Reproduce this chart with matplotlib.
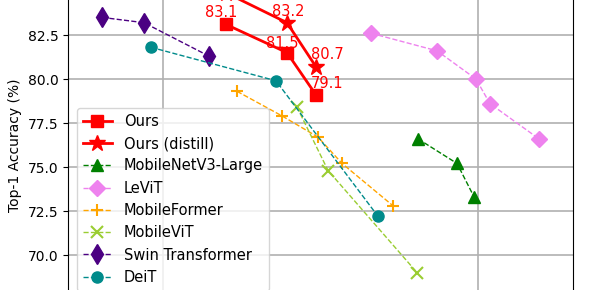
import matplotlib
matplotlib.use('Agg')
import matplotlib.pyplot as plt

# x values are on an arbitrary scale (tick labels are cropped out in the reference)
ours_x = [2.40, 2.787, 2.971]
ours_y = [83.1, 81.5, 79.1]
distill_x = [2.40, 2.787, 2.971]
distill_y = [84.9, 83.2, 80.7]

mnv3_x = [3.619, 3.867, 3.975]
mnv3_y = [76.6, 75.2, 73.3]
levit_x = [3.321, 3.740, 3.987, 4.076, 4.387]
levit_y = [82.6, 81.6, 80.0, 78.6, 76.6]
mformer_x = [2.470, 2.756, 2.984, 3.137, 3.460]
mformer_y = [79.3, 77.9, 76.7, 75.2, 72.8]
mvit_x = [2.851, 3.048, 3.613]
mvit_y = [78.4, 74.8, 69.0]
swin_x = [1.613, 1.879, 2.292]
swin_y = [83.5, 83.2, 81.3]
deit_x = [1.924, 2.717, 3.365]
deit_y = [81.8, 79.9, 72.2]

yticks = [70.0, 72.5, 75.0, 77.5, 80.0, 82.5]
xticks = [2, 4]

# label offsets in pixels (dx, dy above point); first distill label lies outside the crop
ours_off = [(-5, 7), (-5, 5), (11, 7)]
distill_off = [None, (1, 7), (11, 8)]

W, H = 590, 290
fig = plt.figure(figsize=(W / 100, H / 100), dpi=100)

# axes extends past top and bottom of the figure (reference is a crop)
px_per_unit = 17.6
ylo, yhi = 67.0, 85.5
bottom_val = 82.5 - (H - 35) / px_per_unit
ax_bottom = -(bottom_val - ylo) * px_per_unit / H
ax_height = (yhi - ylo) * px_per_unit / H
ax = fig.add_axes([68 / W, ax_bottom, (573 - 68) / W, ax_height])

ax.plot(ours_x, ours_y, '-s', color='red', lw=2, ms=8, label='Ours', zorder=5)
ax.plot(distill_x, distill_y, '-*', color='red', lw=2, ms=12, label='Ours (distill)', zorder=5)
ax.plot(mnv3_x, mnv3_y, '--^', color='green', lw=1, ms=9, label='MobileNetV3-Large')
ax.plot(levit_x, levit_y, '--D', color='violet', lw=1, ms=8, label='LeViT')
ax.plot(mformer_x, mformer_y, '--+', color='orange', lw=1, ms=9, mew=1.5, label='MobileFormer')
ax.plot(mvit_x, mvit_y, '--x', color='yellowgreen', lw=1, ms=8, mew=1.5, label='MobileViT')
ax.plot(swin_x, swin_y, '--d', color='indigo', lw=1, ms=10, label='Swin Transformer')
ax.plot(deit_x, deit_y, '--o', color='darkcyan', lw=1, ms=8, label='DeiT')

for x, y, off in zip(ours_x + distill_x, ours_y + distill_y, ours_off + distill_off):
    if off is None:
        continue
    ax.annotate(f'{y:.1f}', (x, y), xytext=(off[0] * 0.72, off[1] * 0.72), textcoords='offset points',
                ha='center', va='baseline', color='red', fontsize=10.5)

ax.set_ylim(ylo, yhi)
ax.set_xlim(2 - 95 / 157.5, 4 + 95 / 157.5)
ax.set_yticks(yticks)
ax.set_xticks(xticks)
ax.tick_params(labelsize=10, labelbottom=False)
ax.grid(True, color='#b0b0b0', lw=1.2)
ax.set_axisbelow(True)
ax.set_ylabel('Top-1 Accuracy (%)', fontsize=10)

ax.legend(loc='upper left', bbox_to_anchor=(77 / W, 1 - 108 / H), bbox_transform=fig.transFigure,
          fontsize=10.5, borderaxespad=0)

fig.savefig('out.png', dpi=100)
